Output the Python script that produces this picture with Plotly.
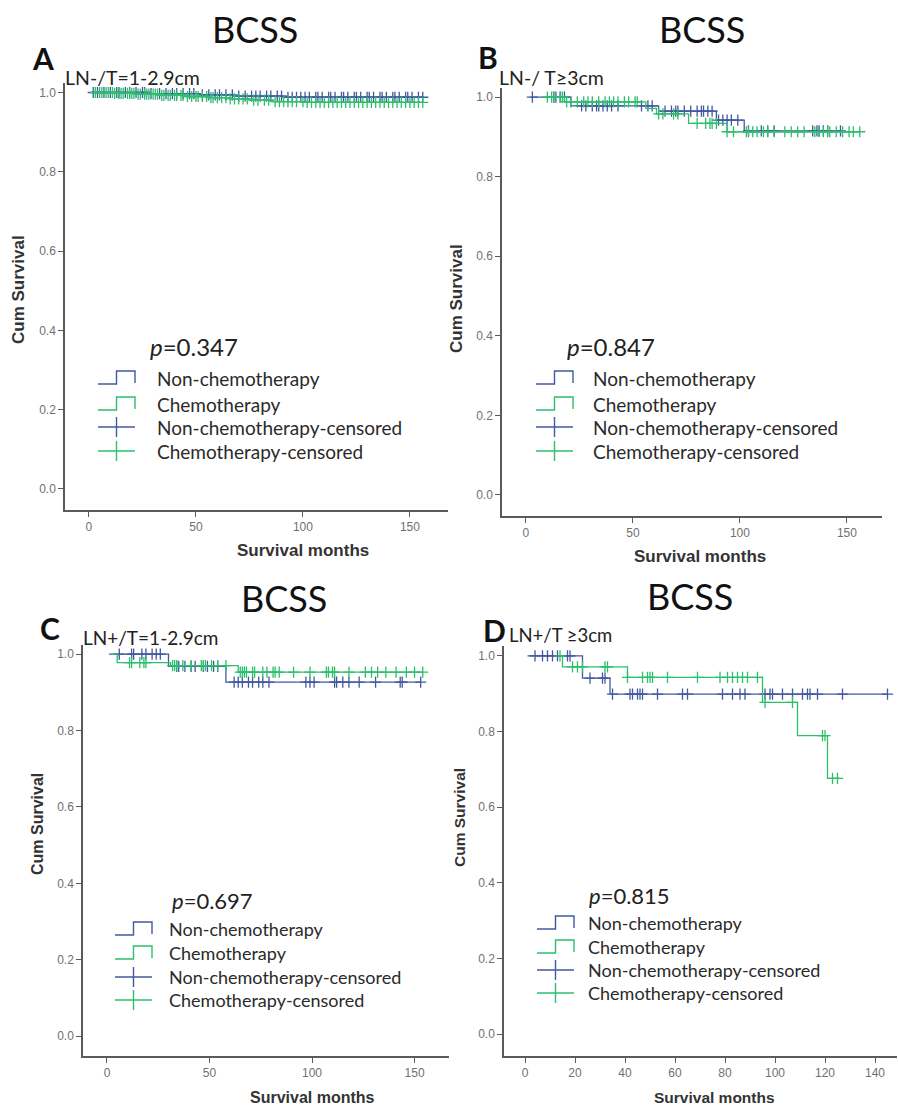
import plotly.graph_objects as go

W, H = 898, 1106
BLUE = "#42599f"
GREEN = "#2cbf6c"
AXC = "#5a5a5a"
TXT_FONT = "Lato"
AX_FONT = "Liberation Sans"

# ---------------- data ----------------
# Panel A : LN-/T=1-2.9cm
A_non_time = [1, 28, 52, 68, 92]
A_non_surv = [1.000, 0.997, 0.994, 0.991, 0.988]
A_non_end = 156
A_non_cens = [2, 4, 7, 10, 13, 14, 17, 19, 22, 25, 26, 29, 33, 36, 39, 41, 44, 47, 49, 53,
              56, 59, 61, 64, 67, 70, 73, 76, 78, 80, 83, 85, 88, 90, 93, 95, 97, 99, 101,
              103, 106, 107, 109, 112, 113, 115, 118, 119, 121, 124, 125, 127, 130, 131,
              133, 136, 137, 139, 142, 143, 145, 148, 149, 151, 154, 156]
A_chemo_time = [3, 12, 22, 33, 45, 57, 66, 75, 86, 102]
A_chemo_surv = [1.000, 0.998, 0.996, 0.993, 0.990, 0.987, 0.984, 0.981, 0.977, 0.975]
A_chemo_end = 156
A_chemo_cens = [3, 5, 6, 8, 9, 11, 12, 14, 15, 16, 18, 19, 20, 21, 23, 24, 26, 27, 28, 30,
                31, 32, 34, 35, 37, 38, 40, 41, 43, 44, 46, 48, 50, 51, 53, 55, 57, 58, 60,
                62, 64, 66, 68, 70, 72, 74, 77, 79, 82, 84, 87, 89, 91, 93, 95, 97, 100,
                102, 104, 106, 108, 110, 112, 114, 116, 118, 120, 122, 124, 126, 128, 130,
                132, 134, 136, 138, 140, 142, 144, 146, 148, 150, 152, 154, 156]

# Panel B : LN-/ T>=3cm
B_non_time = [2, 21, 62, 89, 102]
B_non_surv = [1.000, 0.978, 0.965, 0.942, 0.915]
B_non_end = 147
B_non_cens = [3, 13, 14, 16, 18, 26, 28, 31, 33, 34, 36, 38, 40, 43, 54, 57, 59, 65, 68, 70,
              71, 74, 77, 80, 82, 83, 85, 87, 90, 92, 94, 96, 99, 104, 110, 113, 116, 134,
              136, 137, 139, 141, 147]
B_chemo_time = [8, 18, 56, 61, 76, 94]
B_chemo_surv = [1.000, 0.988, 0.972, 0.958, 0.934, 0.913]
B_chemo_end = 156
B_chemo_cens = [10, 12, 13, 16, 17, 19, 21, 24, 27, 29, 31, 34, 37, 39, 41, 43, 46, 48, 51,
                52, 62, 64, 69, 71, 80, 84, 86, 87, 89, 94, 97, 103, 104, 106, 108, 111, 113,
                116, 121, 124, 127, 130, 135, 137, 139, 141, 142, 145, 148, 151, 153, 156]

# Panel C : LN+/T=1-2.9cm
C_non_time = [1, 30, 58]
C_non_surv = [1.000, 0.968, 0.927]
C_non_end = 153
C_non_cens = [6, 12, 13, 17, 19, 22, 24, 26, 34, 35, 38, 41, 43, 47, 49, 52, 54, 62, 64, 66,
              69, 71, 74, 76, 79, 97, 99, 101, 111, 112, 115, 118, 123, 131, 143, 144, 153]
C_chemo_time = [3, 5, 31, 64]
C_chemo_surv = [1.000, 0.978, 0.970, 0.953]
C_chemo_end = 154
C_chemo_cens = [11, 12, 16, 18, 19, 32, 33, 34, 37, 41, 46, 47, 48, 51, 54, 58, 65, 66, 67,
                68, 71, 72, 76, 78, 81, 82, 84, 91, 99, 107, 108, 110, 111, 118, 126, 129,
                132, 136, 141, 146, 150, 154]

# Panel D : LN+/T >=3cm
D_non_time = [1, 23, 34]
D_non_surv = [1.000, 0.941, 0.899]
D_non_end = 145
D_non_cens = [4, 7, 9, 11, 13, 17, 18, 26, 31, 32, 35, 42, 43, 45, 46, 47, 53, 63, 65, 79,
              83, 86, 88, 96, 98, 99, 103, 107, 111, 113, 114, 117, 127, 145]
D_chemo_time = [14, 15, 41, 95, 109, 121]
D_chemo_surv = [1.000, 0.971, 0.943, 0.877, 0.789, 0.676]
D_chemo_end = 126
D_chemo_cens = [14, 19, 21, 23, 32, 33, 41, 47, 49, 50, 51, 57, 69, 78, 81, 83, 85, 87, 89,
                93, 96, 107, 119, 120, 123, 125]

letters = ["A", "B", "C", "D"]
subtitles = ["LN-/T=1-2.9cm", "LN-/ T\u22653cm", "LN+/T=1-2.9cm", "LN+/T \u22653cm"]
p_values = ["0.347", "0.847", "0.697", "0.815"]
legend_labels = ["Non-chemotherapy", "Chemotherapy", "Non-chemotherapy-censored",
                 "Chemotherapy-censored"]
y_ticks = [0.0, 0.2, 0.4, 0.6, 0.8, 1.0]
x_ticks_150 = [0, 50, 100, 150]
x_ticks_140 = [0, 20, 40, 60, 80, 100, 120, 140]


# ---------------- helpers ----------------
def px(x):
    return x / W


def py(y):
    return 1 - y / H


def step_xy(times, surv, end):
    return list(times) + [end], list(surv) + [surv[-1]]


def surv_at(times, surv, t):
    s = surv[0]
    for ti, si in zip(times, surv):
        if ti <= t:
            s = si
    return s


# layout geometry (pixels) per panel
panels = [
    dict(data=(A_non_time, A_non_surv, A_non_end, A_non_cens,
               A_chemo_time, A_chemo_surv, A_chemo_end, A_chemo_cens),
         dom_x=(65, 448), dom_y=(510, 83), xr=(-11.2, 167.8), yr=(-0.053, 1.024),
         xt=x_ticks_150, title=(255, 29), letter=(43, 58), sub=(63, 77), ssize=19.5,
         p=(148, 347), rows=(378, 404, 427, 451), glyph_x=98, text_x=155, lsize=19, psize=24,
         ytitle=(18, 290), xtitle=(303, 550), tsize=17),
    dict(data=(B_non_time, B_non_surv, B_non_end, B_non_cens,
               B_chemo_time, B_chemo_surv, B_chemo_end, B_chemo_cens),
         dom_x=(502, 882), dom_y=(516, 88), xr=(-11.2, 166.4), yr=(-0.053, 1.023),
         xt=x_ticks_150, title=(702, 29), letter=(488, 57), sub=(497, 77), ssize=19.5,
         p=(565, 347), rows=(378, 404, 427, 451), glyph_x=536, text_x=591, lsize=19, psize=24,
         ytitle=(457, 298), xtitle=(700, 556), tsize=17),
    dict(data=(C_non_time, C_non_surv, C_non_end, C_non_cens,
               C_chemo_time, C_chemo_surv, C_chemo_end, C_chemo_cens),
         dom_x=(83, 449), dom_y=(1056, 645), xr=(-11.7, 166.8), yr=(-0.052, 1.024),
         xt=x_ticks_150, title=(284, 598), letter=(50, 628), sub=(81, 637), ssize=19,
         p=(170, 900), rows=(929, 953, 977, 1000), glyph_x=115, text_x=167, lsize=18, psize=22,
         ytitle=(37, 824), xtitle=(312, 1097), tsize=16),
    dict(data=(D_non_time, D_non_surv, D_non_end, D_non_cens,
               D_chemo_time, D_chemo_surv, D_chemo_end, D_chemo_cens),
         dom_x=(504, 897), dom_y=(1056, 646), xr=(-8.4, 148.8), yr=(-0.058, 1.026),
         xt=x_ticks_140, title=(690, 596), letter=(494, 630), sub=(507, 635), ssize=18.5,
         p=(587, 895), rows=(923, 947, 970, 993), glyph_x=537, text_x=586, lsize=18, psize=22,
         ytitle=(459, 818), xtitle=(714, 1097), tsize=15.5),
]

fig = go.Figure()
layout = dict(width=W, height=H, margin=dict(l=0, r=0, t=0, b=0),
              plot_bgcolor="white", paper_bgcolor="white", showlegend=False)
annotations = []
shapes = []

for i, p in enumerate(panels):
    n = "" if i == 0 else str(i + 1)
    xa, ya = "x" + n, "y" + n
    nt, ns, ne, nc, ct, cs, ce, cc = p["data"]

    for (t, s, e, cens, col) in ((nt, ns, ne, nc, BLUE), (ct, cs, ce, cc, GREEN)):
        sx, sy = step_xy(t, s, e)
        fig.add_trace(go.Scatter(x=sx, y=sy, mode="lines", line=dict(color=col, width=1.3,
                                 shape="hv"), xaxis=xa, yaxis=ya, hoverinfo="skip"))
        fig.add_trace(go.Scatter(x=cens, y=[surv_at(t, s, c) for c in cens], mode="markers",
                                 marker=dict(symbol="cross-thin", size=8,
                                             line=dict(color=col, width=1.3)),
                                 xaxis=xa, yaxis=ya, hoverinfo="skip"))

    axis_common = dict(showline=True, linecolor=AXC, linewidth=1.5, ticks="outside",
                       ticklen=5, tickwidth=1.3, tickcolor=AXC, showgrid=False,
                       zeroline=False, mirror=False,
                       tickfont=dict(family=AX_FONT, size=12, color="#707070"))
    layout["xaxis" + n] = dict(axis_common, domain=[px(p["dom_x"][0]), px(p["dom_x"][1])],
                               range=list(p["xr"]), tickvals=p["xt"], anchor=ya)
    layout["yaxis" + n] = dict(axis_common, domain=[py(p["dom_y"][0]), py(p["dom_y"][1])],
                               range=list(p["yr"]), tickvals=y_ticks, tickformat=".1f",
                               anchor=xa)

    # titles and labels
    annotations.append(dict(x=px(p["title"][0]), y=py(p["title"][1]), text="BCSS",
                            xref="paper", yref="paper", showarrow=False, xanchor="center",
                            yanchor="middle", font=dict(family=TXT_FONT, size=36, color="#111")))
    annotations.append(dict(x=px(p["letter"][0]), y=py(p["letter"][1]), text="<b>%s</b>" % letters[i],
                            xref="paper", yref="paper", showarrow=False, xanchor="center",
                            yanchor="middle", font=dict(family=TXT_FONT, size=30, color="#111")))
    annotations.append(dict(x=px(p["sub"][0]), y=py(p["sub"][1]), text=subtitles[i],
                            xref="paper", yref="paper", showarrow=False, xanchor="left",
                            yanchor="middle",
                            font=dict(family=TXT_FONT, size=p["ssize"], color="#222")))
    annotations.append(dict(x=px(p["p"][0]), y=py(p["p"][1]), text="<i>p</i>=" + p_values[i],
                            xref="paper", yref="paper", showarrow=False, xanchor="left",
                            yanchor="middle",
                            font=dict(family=TXT_FONT, size=p["psize"], color="#222")))
    annotations.append(dict(x=px(p["ytitle"][0]), y=py(p["ytitle"][1]), text="<b>Cum Survival</b>",
                            xref="paper", yref="paper", showarrow=False, xanchor="center",
                            yanchor="middle", textangle=-90,
                            font=dict(family=AX_FONT, size=p["tsize"], color="#333")))
    annotations.append(dict(x=px(p["xtitle"][0]), y=py(p["xtitle"][1]), text="<b>Survival months</b>",
                            xref="paper", yref="paper", showarrow=False, xanchor="center",
                            yanchor="middle",
                            font=dict(family=AX_FONT, size=p["tsize"], color="#333")))

    # custom legend
    gx = p["glyph_x"]
    gw = 37
    for k, (lab, yrow) in enumerate(zip(legend_labels, p["rows"])):
        col = BLUE if k % 2 == 0 else GREEN
        annotations.append(dict(x=px(p["text_x"]), y=py(yrow), text=lab, xref="paper",
                                yref="paper", showarrow=False, xanchor="left",
                                yanchor="middle",
                                font=dict(family=TXT_FONT, size=p["lsize"], color="#2a2a2a")))
        if k < 2:
            lo, hi = yrow + 6, yrow - 7
            xm = gx + gw * 0.5
            path = "M %f,%f L %f,%f L %f,%f L %f,%f L %f,%f" % (
                px(gx), py(lo), px(xm), py(lo), px(xm), py(hi), px(gx + gw), py(hi),
                px(gx + gw), py(lo - 1))
            shapes.append(dict(type="path", xref="paper", yref="paper", path=path,
                               line=dict(color=col, width=1.4)))
        else:
            shapes.append(dict(type="line", xref="paper", yref="paper", x0=px(gx),
                               x1=px(gx + gw), y0=py(yrow), y1=py(yrow),
                               line=dict(color=col, width=1.4)))
            shapes.append(dict(type="line", xref="paper", yref="paper", x0=px(gx + gw / 2),
                               x1=px(gx + gw / 2), y0=py(yrow - 10), y1=py(yrow + 10),
                               line=dict(color=col, width=1.4)))

layout["annotations"] = annotations
layout["shapes"] = shapes
fig.update_layout(**layout)
fig.write_html("out.html")
